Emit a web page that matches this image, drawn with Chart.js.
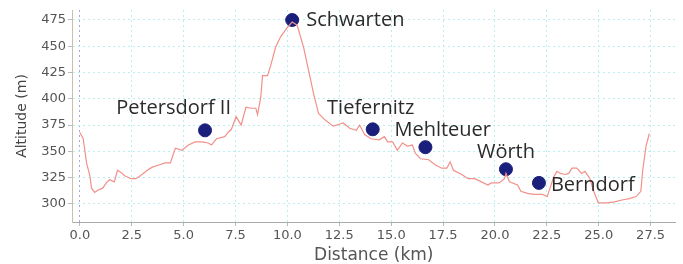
<!DOCTYPE html>
<html>
<head>
<meta charset="utf-8">
<script src="https://cdn.jsdelivr.net/npm/chart.js@4"></script>
<style>
  html, body { margin: 0; padding: 0; background: #fff; }
  #wrap { width: 683px; height: 264px; }
</style>
</head>
<body>
<div id="wrap"><canvas id="profil"></canvas></div>
<script>
// profil altimétrique (km, m)
const distances = [0.0, 0.16, 0.32, 0.48, 0.56, 0.71, 0.86, 1.1, 1.27, 1.43, 1.66, 1.81, 1.98, 2.14, 2.46, 2.7, 2.93, 3.25, 3.49, 3.8, 4.12, 4.36, 4.6, 4.92, 5.23, 5.55, 5.87, 6.18, 6.34, 6.58, 6.98, 7.14, 7.3, 7.53, 7.77, 8.0, 8.25, 8.48, 8.56, 8.72, 8.8, 9.04, 9.2, 9.43, 9.67, 10.0, 10.23, 10.47, 10.78, 11.02, 11.26, 11.5, 11.81, 12.2, 12.37, 12.53, 12.69, 13.0, 13.32, 13.48, 13.72, 14.03, 14.43, 14.67, 14.83, 15.07, 15.3, 15.54, 15.78, 16.02, 16.17, 16.41, 16.81, 17.13, 17.44, 17.68, 17.84, 18.0, 18.4, 18.71, 19.03, 19.35, 19.66, 19.82, 20.2, 20.46, 20.53, 20.7, 21.09, 21.25, 21.57, 21.88, 22.28, 22.52, 22.6, 22.84, 22.99, 23.15, 23.39, 23.55, 23.71, 23.94, 24.18, 24.34, 24.58, 24.74, 24.98, 25.37, 25.77, 26.17, 26.48, 26.8, 27.03, 27.12, 27.28, 27.44];
const altitudes = [368, 362, 339, 327, 315, 311, 313, 315, 320, 323, 321, 332, 330, 327, 324, 324, 327, 332, 335, 337, 339, 339, 353, 351, 356, 359, 359, 358, 356, 362, 364, 368, 371, 383, 375, 392, 391, 391, 385, 402, 422, 422, 432, 449, 459, 468, 473, 470, 449, 427, 405, 386, 380, 374, 375, 376, 377, 372, 370, 375, 366, 362, 361, 364, 359, 359, 351, 358, 355, 356, 348, 343, 342, 337, 334, 334, 340, 332, 328, 324, 324, 321, 318, 320, 320, 324, 329, 321, 318, 312, 310, 309, 309, 307, 312, 326, 331, 329, 328, 329, 334, 334, 329, 331, 324, 313, 301, 301, 302, 304, 305, 307, 312, 332, 355, 367];

// localités
const lieux = ["Petersdorf II", "Schwarten", "Tiefernitz", "Mehlteuer", "Wörth", "Berndorf"];
const lieuxKm = [6.03, 10.23, 14.11, 16.65, 20.53, 22.12];
const lieuxAlt = [370, 475, 371, 354, 333, 320];

// graduations
const xTicks = [0, 2.5, 5, 7.5, 10, 12.5, 15, 17.5, 20, 22.5, 25, 27.5];
const yTicks = [300, 325, 350, 375, 400, 425, 450, 475];

// placement des étiquettes par rapport au point (dx, dy, alignement)
const placement = [
  { dx: 26, dy: -22, align: "right" },
  { dx: 14, dy: 0, align: "left" },
  { dx: -2, dy: -21, align: "center" },
  { dx: -31, dy: -17, align: "left" },
  { dx: 0, dy: -17, align: "center" },
  { dx: 12, dy: 2, align: "left" }
];

const etiquettes = {
  id: "etiquettes",
  afterDatasetsDraw(chart) {
    const ctx = chart.ctx;
    const points = chart.getDatasetMeta(1).data;
    ctx.save();
    ctx.font = "20px 'Open Sans'";
    ctx.fillStyle = "#2b2b2b";
    ctx.textBaseline = "middle";
    for (let i = 0; i < points.length; i++) {
      ctx.textAlign = placement[i].align;
      ctx.fillText(lieux[i], points[i].x + placement[i].dx, points[i].y + placement[i].dy);
    }
    ctx.restore();
  }
};

const grille = "#b9efee";

new Chart(document.querySelector("#profil"), {
  type: "line",
  data: {
    datasets: [{
      data: distances.map((d, i) => ({ x: d, y: altitudes[i] })),
      borderColor: "#f2908a",
      borderWidth: 1.2,
      pointRadius: 0,
      tension: 0,
      fill: false
    }, {
      type: "scatter",
      data: lieuxKm.map((d, i) => ({ x: d, y: lieuxAlt[i] })),
      backgroundColor: "#1b1f7c",
      borderColor: "#1b1f7c",
      pointRadius: 6.5
    }]
  },
  options: {
    responsive: true,
    maintainAspectRatio: false,
    animation: false,
    layout: { padding: { top: 10, right: 0, left: 0, bottom: 0 } },
    plugins: { legend: { display: false }, tooltip: { enabled: false } },
    scales: {
      x: {
        type: "linear",
        min: -0.38,
        max: 28.7,
        afterBuildTicks: (s) => { s.ticks = xTicks.map(v => ({ value: v })); },
        afterFit: (s) => { s.height = 42; },
        ticks: {
          callback: (v) => v.toFixed(1),
          font: { family: "DejaVu Sans", size: 13 },
          color: "#555",
          padding: 2,
          maxRotation: 0
        },
        grid: {
          color: (c) => (c.tick && c.tick.value === 0) ? "#a7a7e6" : grille,
          tickColor: "#bbb",
          tickLength: 4
        },
        border: { color: "#aaa", dash: [2, 3] },
        title: {
          display: true,
          text: "Distance (km)",
          font: { family: "DejaVu Sans", size: 17, lineHeight: 1 },
          color: "#555",
          padding: { top: 0, bottom: 0 }
        }
      },
      y: {
        min: 282.8,
        max: 484.5,
        afterBuildTicks: (s) => { s.ticks = yTicks.map(v => ({ value: v })); },
        afterFit: (s) => { s.width = 72; },
        ticks: {
          font: { family: "DejaVu Sans", size: 13 },
          color: "#555",
          padding: 2
        },
        grid: {
          color: grille,
          tickColor: "#bbb",
          tickLength: 4
        },
        border: { color: "#c9bfae", dash: [2, 3] },
        title: {
          display: true,
          text: "Altitude (m)",
          font: { family: "DejaVu Sans", size: 14, lineHeight: 1 },
          color: "#444",
          padding: { top: 15, bottom: 0 }
        }
      }
    }
  },
  plugins: [etiquettes]
});
</script>
</body>
</html>
